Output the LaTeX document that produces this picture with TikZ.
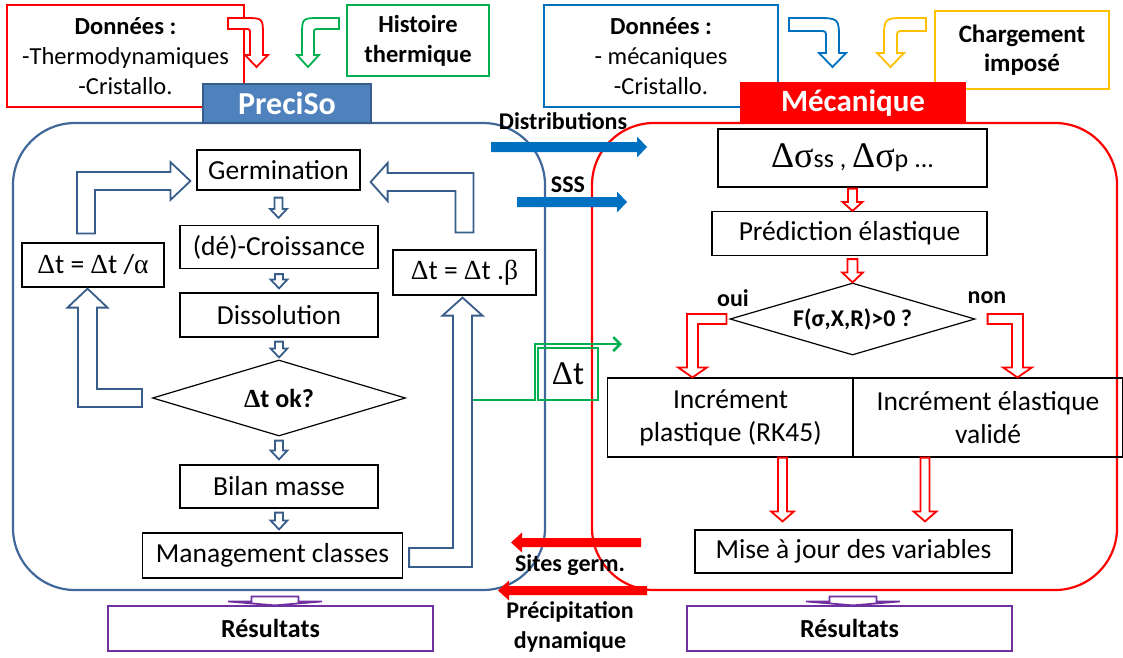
\documentclass[tikz,border=0pt]{standalone}
\usepackage{fontspec}
\setmainfont{Carlito}
\newfontfamily\grk{Liberation Serif}
\usepackage{tikz}
\usetikzlibrary{calc,shapes.geometric,arrows.meta}

\definecolor{preciso}{RGB}{79,129,189}
\definecolor{precisoline}{RGB}{56,93,138}
\definecolor{cadre}{RGB}{65,104,155}
\definecolor{bleu}{RGB}{0,112,192}
\definecolor{vert}{RGB}{0,176,80}
\definecolor{jaune}{RGB}{255,192,0}
\definecolor{violet}{RGB}{112,48,160}

% fleche creuse verticale : style, depart, pointe, demi-tige, demi-tete, longueur tete
\newcommand{\flechebas}[6]{%
\draw[#1] let \p1=(#2), \p2=(#3) in
  (\x1-#4,\y1) -- (\x1+#4,\y1) -- (\x1+#4,\y2+#6) -- (\x1+#5,\y2+#6) -- (\x1,\y2)
  -- (\x1-#5,\y2+#6) -- (\x1-#4,\y2+#6) -- cycle;}

% fleche pleine horizontale : couleur, depart, pointe, demi-tige, demi-tete, recul tete
\newcommand{\flechepleine}[6]{%
\fill[#1] let \p1=(#2), \p2=(#3) in
  (\x1,\y1+#4) -- (\x2+#6,\y1+#4) -- (\x2+#6,\y1+#5) -- (\x2,\y1)
  -- (\x2+#6,\y1-#5) -- (\x2+#6,\y1-#4) -- (\x1,\y1-#4) -- cycle;}

\begin{document}
\begin{tikzpicture}[x=1pt,y=-1pt,
  flow/.style={draw,line width=1.2pt,inner sep=0pt,align=center,font=\fontsize{27.5}{33}\selectfont},
  databox/.style={draw,line width=1.2pt,inner sep=0pt,align=center,font=\fontsize{24.5}{30}\selectfont},
  header/.style={draw=precisoline,line width=1.5pt,inner sep=0pt,text=white,font=\bfseries\fontsize{32}{38}\selectfont},
  lbl/.style={inner sep=0pt,align=center,font=\bfseries\fontsize{24}{30}\selectfont},
  resbox/.style={draw=violet,line width=1.2pt,inner sep=0pt,minimum width=325pt,minimum height=45pt,font=\bfseries\fontsize{26}{30}\selectfont},
  bluehollow/.style={draw=precisoline,line width=1.8pt,fill=white},
  redhollow/.style={draw=red,line width=1.8pt,fill=white},
  violethollow/.style={draw=violet,line width=1.8pt,fill=white}]

\path[use as bounding box,fill=white] (0,0) rectangle (1123,657);

% donnees d'entree
\node[databox,draw=red,minimum width=237pt,minimum height=102pt] (thermo) at (125.5,56) {{\bfseries Données :}\\-Thermodynamiques\\-Cristallo.};
\node[databox,draw=vert,minimum width=142pt,minimum height=71pt,font=\bfseries\fontsize{24.5}{30}\selectfont] (histoire) at (418,40.5) {Histoire\\thermique};
\node[databox,draw=bleu,minimum width=234pt,minimum height=102pt] (mecadata) at (661,56) {{\bfseries Données :}\\- mécaniques\\-Cristallo.};
\node[databox,draw=jaune,minimum width=174pt,minimum height=78pt,font=\bfseries\fontsize{25}{29}\selectfont] (charge) at (1022,50) {Chargement\\imposé};

\draw[redhollow] (228,18) -- (245,18) .. controls (263,18) .. (263,36) -- (263,55) -- (268,55) -- (256.5,67) -- (245,55) -- (250,55) -- (250,34) .. controls (250,29) .. (245,29) -- (228,29) -- cycle;
\draw[draw=vert,line width=1.8pt,fill=white] (339,18) -- (320,18) .. controls (302,18) .. (302,36) -- (302,55) -- (297,55) -- (308,67) -- (319,55) -- (314,55) -- (314,34) .. controls (314,29) .. (319,29) -- (339,29) -- cycle;
\draw[draw=bleu,line width=1.8pt,fill=white] (789,18) -- (815,18) .. controls (839,18) .. (839,40) -- (839,53) -- (846,53) -- (832.5,67) -- (819,53) -- (826,53) -- (826,38) .. controls (826,31) .. (819,31) -- (789,31) -- cycle;
\draw[draw=jaune,line width=1.8pt,fill=white] (926,18) -- (906,18) .. controls (884,18) .. (884,40) -- (884,53) -- (877,53) -- (890.5,67) -- (904,53) -- (897,53) -- (897,38) .. controls (897,31) .. (904,31) -- (926,31) -- cycle;

% cadres
\draw[cadre,line width=2.2pt,rounded corners=62pt] (13,123) rectangle (545,590);
\draw[red,line width=2.2pt,rounded corners=62pt] (592,123) rectangle (1117,590);

\node[header,fill=preciso,minimum width=168pt,minimum height=39pt] (preciso) at (287,103.5) {PreciSo};
\node[header,draw=red,fill=red,minimum width=224pt,minimum height=40pt,font=\bfseries\fontsize{31}{37}\selectfont] (mecanique) at (853,103) {Mécanique};

% PreciSo
\node[flow,minimum width=163pt,minimum height=40pt] (germ) at (278.5,170) {Germination};
\node[flow,minimum width=198pt,minimum height=43pt] (croiss) at (279,247) {(dé)-Croissance};
\node[flow,minimum width=198pt,minimum height=44pt] (dissol) at (279,315) {Dissolution};
\node[flow,shape=diamond,aspect=3.3,minimum width=253pt,minimum height=76pt,font=\bfseries\fontsize{26}{30}\selectfont] (dtok) at (279,398) {{\grk Δ}t ok?};
\node[flow,minimum width=198pt,minimum height=43pt] (bilan) at (279,486.5) {Bilan masse};
\node[flow,minimum width=260pt,minimum height=45pt] (manag) at (272.5,555.5) {Management classes};
\node[flow,minimum width=142pt,minimum height=44pt] (alpha) at (93,265) {{\grk Δ}t = {\grk Δ}t /{\grk α}};
\node[flow,minimum width=143pt,minimum height=45pt] (beta) at (464.5,272.5) {{\grk Δ}t = {\grk Δ}t .{\grk β}};

\flechebas{bluehollow}{[yshift=-7pt]germ.south}{[yshift=7pt]croiss.north}{4pt}{8.5pt}{9pt}
\flechebas{bluehollow}{[yshift=-5pt]croiss.south}{[yshift=4pt]dissol.north}{4pt}{8.5pt}{9pt}
\flechebas{bluehollow}{[yshift=-4pt]dissol.south}{[yshift=2pt]dtok.north}{4pt}{8.5pt}{9pt}
\flechebas{bluehollow}{[yshift=-4pt]dtok.south}{[yshift=5pt]bilan.north}{4pt}{8.5pt}{9pt}
\flechebas{bluehollow}{[yshift=-4pt]bilan.south}{[xshift=6.5pt,yshift=3pt]manag.north}{4pt}{8.5pt}{9pt}

% boucles sur le pas de temps
\draw[bluehollow] let \p1=(dtok.west), \p2=([xshift=-5.5pt]alpha.south) in
  (\x1-10pt,\y1+9pt) -- (\x2+9.5pt,\y1+9pt) -- (\x2+9.5pt,\y2-20pt) -- (\x2+20pt,\y2-20pt) -- (\x2,\y2-1pt)
  -- (\x2-20pt,\y2-20pt) -- (\x2-9.5pt,\y2-20pt) -- (\x2-9.5pt,\y1-9pt) -- (\x1-10pt,\y1-9pt) -- cycle;
\draw[bluehollow] let \p1=([xshift=-7pt,yshift=9pt]alpha.north), \p2=([xshift=-6pt,yshift=-11pt]germ.west) in
  (\x1-9pt,\y1) -- (\x1-9pt,\y2+9pt) -- (\x2-20pt,\y2+9pt) -- (\x2-20pt,\y2+19pt) -- (\x2,\y2)
  -- (\x2-20pt,\y2-19pt) -- (\x2-20pt,\y2-9pt) -- (\x1+9pt,\y2-9pt) -- (\x1+9pt,\y1) -- cycle;
\draw[bluehollow] let \p1=([yshift=17pt]beta.north), \p2=([xshift=10pt,yshift=-12pt]germ.east) in
  (\x1+9pt,\y1) -- (\x1+9pt,\y2+9pt) -- (\x2+17pt,\y2+9pt) -- (\x2+17pt,\y2+19pt) -- (\x2,\y2)
  -- (\x2+17pt,\y2-19pt) -- (\x2+17pt,\y2-9pt) -- (\x1-9pt,\y2-9pt) -- (\x1-9pt,\y1) -- cycle;
\draw[bluehollow] let \p1=([xshift=6pt,yshift=-2pt]manag.east), \p2=([xshift=-2pt,yshift=-2pt]beta.south) in
  (\x1,\y1+9.5pt) -- (\x2-9.5pt,\y1+9.5pt) -- (\x2-9.5pt,\y2-18pt) -- (\x2-20pt,\y2-18pt) -- (\x2,\y2)
  -- (\x2+20pt,\y2-18pt) -- (\x2+9.5pt,\y2-18pt) -- (\x2+9.5pt,\y1-9.5pt) -- (\x1,\y1-9.5pt) -- cycle;

% Mecanique
\node[flow,minimum width=269pt,minimum height=58pt] (dsig) at (852.5,158) {{\grk\fontsize{36}{40}\selectfont Δσ}{\fontsize{26}{30}\selectfont ss , }{\grk\fontsize{36}{40}\selectfont Δσ}{\fontsize{26}{30}\selectfont p ...}};
\node[flow,minimum width=275pt,minimum height=44pt] (pred) at (849.5,233.5) {Prédiction élastique};
\node[flow,shape=diamond,aspect=3.4,minimum width=245pt,minimum height=72pt,font=\bfseries\fontsize{24}{30}\selectfont] (crit) at (852.5,319) {F(σ,X,R)>0 ?};
\node[flow,minimum width=246pt,minimum height=79pt] (plast) at (730.5,417.5) {Incrément\\plastique (RK45)};
\node[flow,minimum width=270pt,minimum height=79pt] (elast) at (988,417.5) {Incrément élastique\\validé};
\node[flow,minimum width=317pt,minimum height=43pt] (maj) at (853.5,551.5) {Mise à jour des variables};
\node[lbl] (oui) at (733,298) {oui};
\node[lbl] (non) at (987,298) {non};

\flechebas{redhollow}{[yshift=-1pt]dsig.south}{pred.north}{4.5pt}{10pt}{9pt}
\flechebas{redhollow}{[xshift=3pt,yshift=-3pt]pred.south}{crit.north}{5pt}{10.5pt}{10pt}
\flechebas{redhollow}{[xshift=52pt]plast.south}{[yshift=8pt]maj.north}{4.5pt}{11.5pt}{10pt}
\flechebas{redhollow}{[xshift=-63pt]elast.south}{[yshift=8pt]maj.north}{4.5pt}{11.5pt}{10pt}

\draw[redhollow] let \p1=([xshift=-3pt]crit.west), \p2=([xshift=-38pt]plast.north) in
  (\x1,\y1+5pt) -- (\x2-5.5pt,\y1+5pt) -- (\x2-5.5pt,\y2+10pt) -- (\x2-14.5pt,\y2+10pt) -- (\x2,\y2)
  -- (\x2+14.5pt,\y2+10pt) -- (\x2+5.5pt,\y2+10pt) -- (\x2+5.5pt,\y1-5pt) -- (\x1,\y1-5pt) -- cycle;
\draw[redhollow] let \p1=([xshift=12pt]crit.east), \p2=([xshift=29.5pt]elast.north) in
  (\x1,\y1+5pt) -- (\x2+5.5pt,\y1+5pt) -- (\x2+5.5pt,\y2+10pt) -- (\x2+14.5pt,\y2+10pt) -- (\x2,\y2)
  -- (\x2-14.5pt,\y2+10pt) -- (\x2-5.5pt,\y2+10pt) -- (\x2-5.5pt,\y1-5pt) -- (\x1,\y1-5pt) -- cycle;

% echanges entre les deux modules
\coordinate (distA) at (491,147);
\coordinate (distB) at (647,147);
\coordinate (sssA) at (517,202);
\coordinate (sssB) at (627,202);
\coordinate (sitesA) at (641,542.5);
\coordinate (sitesB) at (511,542.5);
\coordinate (dynA) at (647,590.5);
\coordinate (dynB) at (498,590.5);
\flechepleine{bleu}{distA}{distB}{5pt}{10.5pt}{-10pt}
\flechepleine{bleu}{sssA}{sssB}{5pt}{10.5pt}{-10pt}
\flechepleine{red}{sitesA}{sitesB}{4.5pt}{10pt}{11pt}
\flechepleine{red}{dynA}{dynB}{4.5pt}{10pt}{11pt}
\node[lbl] (distlbl) at (563,121) {Distributions};
\node[lbl] (ssslbl) at (568,185) {SSS};
\node[lbl] (siteslbl) at (570,565) {Sites germ.};
\node[lbl] (dynlbl) at (570,627) {Précipitation\\dynamique};

% pas de temps transmis
\node[draw=vert,line width=1.6pt,minimum width=60pt,minimum height=52pt,inner sep=0pt,font=\fontsize{33}{38}\selectfont] (dtbox) at (568,374) {{\grk Δ}t};
\coordinate (dtdep) at (473,400);
\coordinate (dtfin) at (622,344);
\draw[vert,line width=2.5pt,-{Straight Barb[length=7pt,width=14pt]}] (dtdep) -- ++(62,0) |- (dtfin);

% resultats
\node[resbox] (res1) at (270.5,628.5) {Résultats};
\node[resbox] (res2) at (849.5,628.5) {Résultats};
\flechebas{violethollow}{[xshift=4.5pt,yshift=9pt]res1.north}{[xshift=4.5pt]res1.north}{23.5pt}{47pt}{4pt}
\flechebas{violethollow}{[xshift=3.5pt,yshift=9pt]res2.north}{[xshift=3.5pt]res2.north}{23.5pt}{47pt}{4pt}

\end{tikzpicture}
\end{document}
